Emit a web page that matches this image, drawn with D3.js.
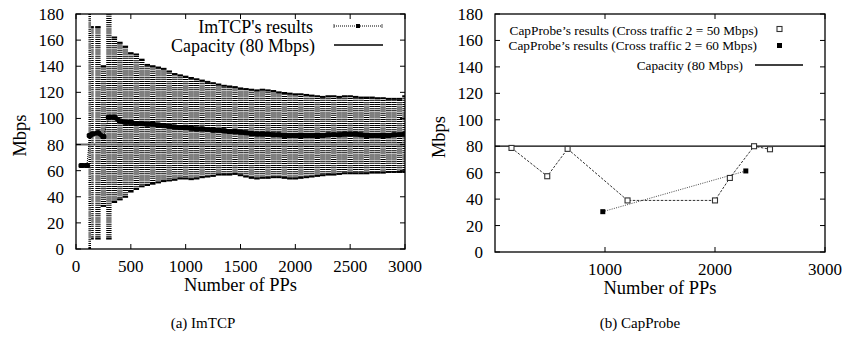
<!DOCTYPE html>
<html>
<head>
<meta charset="utf-8">
<script src="https://cdn.jsdelivr.net/npm/d3@7"></script>
<style>
  body { margin: 0; background: #fff; }
  svg { display: block; font-family: "Liberation Serif", "Times New Roman", serif; }
</style>
</head>
<body>
<svg id="chart" width="844" height="350"></svg>
<script>
// (a) ImTCP: estimate and spread per number of packet pairs
const imPPs = [50, 100, 125, 150, 200, 250, 300, 350, 400, 450, 500, 550, 600, 650, 700, 750, 800, 850, 900, 950,
  1000, 1050, 1100, 1150, 1200, 1250, 1300, 1350, 1400, 1450, 1500, 1550, 1600, 1650, 1700, 1750, 1800, 1850, 1900, 1950,
  2000, 2050, 2100, 2150, 2200, 2250, 2300, 2350, 2400, 2450, 2500, 2550, 2600, 2650, 2700, 2750, 2800, 2850, 2900, 2950, 3000];
const imMean = [64, 64, 87, 88, 89, 86, 101, 101, 98, 97, 97, 96, 96, 95.5, 95.5, 95, 94.5, 94, 93.5, 93,
  93, 92.5, 92, 92, 91.5, 91, 91, 90.5, 90, 90, 89.5, 89, 88.5, 88, 88, 88, 87.5, 87.5, 87, 87,
  87, 87, 87, 87, 87, 87, 87.5, 87.5, 87.5, 88, 88, 88, 87.5, 87, 87, 87, 87, 87, 87.5, 87.5, 88];
const imLow = [64, 64, 0, 8, 8, 33, 8, 36, 38, 40, 44, 46, 48, 49, 50, 51, 52, 52.5, 53, 54,
  54, 53.5, 54, 55, 55.5, 56, 57, 57, 57, 57.5, 56.5, 55.5, 54.5, 54, 54.5, 54.5, 55, 55, 54.5, 54,
  54, 54.5, 55, 55.5, 56, 56.5, 57, 57, 57.5, 58, 58, 58, 58, 58, 58.5, 58.5, 58.5, 59, 59, 59, 59];
const imHigh = [64, 64, 190, 170, 170, 140, 190, 162, 158, 155, 150, 149, 145, 141, 140, 139, 138, 136, 134, 133,
  132, 131, 130, 129, 128, 127, 126, 125, 124.5, 124, 123, 122.5, 122, 121.5, 122, 121.5, 121, 120, 119.5, 119,
  118.5, 118.5, 118, 117.5, 117, 116.5, 117, 117, 116.5, 117, 117, 116.5, 116, 116, 116, 115.5, 115.5, 115, 115, 115, 117];

// (b) CapProbe
const cp50PPs = [150, 475, 660, 1205, 2000, 2135, 2355, 2500];
const cp50Vals = [78.7, 57.3, 78, 39, 39, 56, 80, 77.7];
const cp60PPs = [980, 2280];
const cp60Vals = [30.5, 61.3];

const capacity = 80;
const yTicks = [0, 20, 40, 60, 80, 100, 120, 140, 160, 180];
const xTicksA = [0, 500, 1000, 1500, 2000, 2500, 3000];
const xTicksB = [1000, 2000, 3000];

const svg = d3.select('#chart');
const tickLen = 5;
const stripe = 2.1; // vertical period of the dotted error bars

function frame(g, x, y, xTicks) {
  const [x0, x1] = x.range();
  const [y0, y1] = y.range();
  g.append('rect')
    .attr('x', x0).attr('y', y1)
    .attr('width', x1 - x0).attr('height', y0 - y1)
    .attr('fill', 'none').attr('stroke', '#000').attr('stroke-width', 1.3);

  // inward ticks on all four sides
  g.selectAll('.ytl').data(yTicks).enter().append('line')
    .attr('x1', x0).attr('x2', x0 + tickLen)
    .attr('y1', d => y(d)).attr('y2', d => y(d))
    .attr('stroke', '#000');
  g.selectAll('.ytr').data(yTicks).enter().append('line')
    .attr('x1', x1).attr('x2', x1 - tickLen)
    .attr('y1', d => y(d)).attr('y2', d => y(d))
    .attr('stroke', '#000');
  g.selectAll('.xtb').data(xTicks).enter().append('line')
    .attr('x1', d => x(d)).attr('x2', d => x(d))
    .attr('y1', y0).attr('y2', y0 - tickLen)
    .attr('stroke', '#000');
  g.selectAll('.xtt').data(xTicks).enter().append('line')
    .attr('x1', d => x(d)).attr('x2', d => x(d))
    .attr('y1', y1).attr('y2', y1 + tickLen)
    .attr('stroke', '#000');

  g.selectAll('.ylab').data(yTicks).enter().append('text')
    .attr('x', x0 - 12).attr('y', d => y(d) + 6)
    .attr('text-anchor', 'end').attr('font-size', 17)
    .text(d => d);
  g.selectAll('.xlab').data(xTicks).enter().append('text')
    .attr('x', d => x(d)).attr('y', y0 + 23)
    .attr('text-anchor', 'middle').attr('font-size', 17)
    .text(d => d);

  g.append('text')
    .attr('x', (x0 + x1) / 2).attr('y', y0 + 42)
    .attr('text-anchor', 'middle').attr('font-size', 18.5)
    .text('Number of PPs');
  g.append('text')
    .attr('transform', `translate(${x0 - 50},${(y0 + y1) / 2 + 4}) rotate(-90)`)
    .attr('text-anchor', 'middle').attr('font-size', 18.5)
    .text('Mbps');
}

// ---------- (a) ImTCP ----------
const xA = d3.scaleLinear().domain([0, 3000]).range([76, 405]);
const yA = d3.scaleLinear().domain([0, 180]).range([249, 14]);
const gA = svg.append('g');

svg.append('clipPath').attr('id', 'clipA').append('rect')
  .attr('x', 76).attr('y', 14).attr('width', 329).attr('height', 235);

const band = gA.append('g').attr('clip-path', 'url(#clipA)');
const bars = imPPs.map((p, i) => ({
  p, mean: imMean[i], low: imLow[i], high: imHigh[i],
  w: i === 0 ? xA(imPPs[1]) - xA(imPPs[0]) : xA(p) - xA(imPPs[i - 1])
}));
const spread = bars.filter(d => d.high > d.low);

// dotted vertical error bars; phase kept on a common grid so the dots line up as stripes
band.selectAll('.eb').data(spread).enter().append('line')
  .attr('x1', d => xA(d.p)).attr('x2', d => xA(d.p))
  .attr('y1', d => yA(d.low)).attr('y2', d => yA(d.high))
  .attr('stroke', '#000')
  .attr('stroke-width', d => d.w - 0.15)
  .attr('stroke-dasharray', `1,${stripe - 1}`)
  .attr('stroke-dashoffset', (d, i) => stripe - (yA(d.low) % stripe) + (i % 3 === 0 ? 0.3 : 0));
band.selectAll('.capHi').data(spread).enter().append('line')
  .attr('x1', d => xA(d.p) - d.w / 2).attr('x2', d => xA(d.p) + d.w / 2)
  .attr('y1', d => yA(d.high)).attr('y2', d => yA(d.high))
  .attr('stroke', '#000').attr('stroke-width', 2);
band.selectAll('.capLo').data(spread).enter().append('line')
  .attr('x1', d => xA(d.p) - d.w / 2).attr('x2', d => xA(d.p) + d.w / 2)
  .attr('y1', d => yA(d.low)).attr('y2', d => yA(d.low))
  .attr('stroke', '#000').attr('stroke-width', 2);

band.append('line')
  .attr('x1', xA(0)).attr('x2', xA(3000))
  .attr('y1', yA(capacity)).attr('y2', yA(capacity))
  .attr('stroke', '#666').attr('stroke-width', 2);

// thin connection through all estimates
band.append('path')
  .datum(bars)
  .attr('fill', 'none').attr('stroke', '#000').attr('stroke-width', 1)
  .attr('stroke-dasharray', '1,1')
  .attr('d', d3.line().x(d => xA(d.p)).y(d => yA(d.mean)));

// dense markers read as a thick line: split into runs without large jumps
const runs = [];
bars.forEach((d, i) => {
  if (i === 0 || Math.abs(d.mean - bars[i - 1].mean) > 4) runs.push([]);
  runs[runs.length - 1].push(d);
});
band.selectAll('.run').data(runs.filter(r => r.length > 1)).enter().append('path')
  .attr('fill', 'none').attr('stroke', '#000').attr('stroke-width', 4.6)
  .attr('d', d3.line().x(d => xA(d.p)).y(d => yA(d.mean)));
band.selectAll('.mk').data(bars).enter().append('rect')
  .attr('x', d => xA(d.p) - 3)
  .attr('y', d => yA(d.mean) - 2.5)
  .attr('width', 6)
  .attr('height', 5)
  .attr('rx', 1.5)
  .attr('fill', '#000');

frame(gA, xA, yA, xTicksA);

// legend (a)
const legA = gA.append('g');
legA.append('text').attr('x', 313).attr('y', 33).attr('text-anchor', 'end')
  .attr('font-size', 18).text("ImTCP's results");
legA.append('text').attr('x', 315).attr('y', 52).attr('text-anchor', 'end')
  .attr('font-size', 18).text('Capacity (80 Mbps)');
legA.append('line').attr('x1', 334).attr('x2', 382).attr('y1', 26).attr('y2', 26)
  .attr('stroke', '#000').attr('stroke-dasharray', '1,1');
[334, 382].forEach(xx => legA.append('line')
  .attr('x1', xx).attr('x2', xx).attr('y1', 24).attr('y2', 28).attr('stroke', '#555'));
legA.append('rect').attr('x', 356).attr('y', 24).attr('width', 4).attr('height', 4).attr('fill', '#000');
legA.append('line').attr('x1', 334).attr('x2', 383).attr('y1', 45).attr('y2', 45)
  .attr('stroke', '#000').attr('stroke-width', 1.3);

gA.append('text').attr('x', 203).attr('y', 328).attr('text-anchor', 'middle')
  .attr('font-size', 15).text('(a) ImTCP');

// ---------- (b) CapProbe ----------
const xB = d3.scaleLinear().domain([0, 3000]).range([495, 825]);
const yB = d3.scaleLinear().domain([0, 180]).range([252, 14]);
const gB = svg.append('g');

gB.append('line')
  .attr('x1', xB(0)).attr('x2', xB(3000))
  .attr('y1', yB(capacity)).attr('y2', yB(capacity))
  .attr('stroke', '#000').attr('stroke-width', 1.3);

const cp50 = cp50PPs.map((p, i) => ({ p, v: cp50Vals[i] }));
const cp60 = cp60PPs.map((p, i) => ({ p, v: cp60Vals[i] }));
const lineB = d3.line().x(d => xB(d.p)).y(d => yB(d.v));

gB.append('path').datum(cp50)
  .attr('fill', 'none').attr('stroke', '#333').attr('stroke-width', 1)
  .attr('stroke-dasharray', '2.5,1.5').attr('d', lineB);
gB.append('path').datum(cp60)
  .attr('fill', 'none').attr('stroke', '#444').attr('stroke-width', 1)
  .attr('stroke-dasharray', '1,1.3').attr('d', lineB);

gB.selectAll('.m50').data(cp50).enter().append('rect')
  .attr('x', d => xB(d.p) - 2.5).attr('y', d => yB(d.v) - 2.5)
  .attr('width', 5).attr('height', 5)
  .attr('fill', '#fff').attr('stroke', '#333').attr('stroke-width', 1.1);
gB.selectAll('.m60').data(cp60).enter().append('rect')
  .attr('x', d => xB(d.p) - 2.5).attr('y', d => yB(d.v) - 2.5)
  .attr('width', 5).attr('height', 5)
  .attr('fill', '#000');

frame(gB, xB, yB, xTicksB);

// legend (b)
const legB = gB.append('g').attr('font-size', 13.3);
legB.append('text').attr('x', 758).attr('y', 35).attr('text-anchor', 'end')
  .text('CapProbe\u2019s results (Cross traffic 2 = 50 Mbps)');
legB.append('text').attr('x', 757).attr('y', 50).attr('text-anchor', 'end')
  .text('CapProbe\u2019s results (Cross traffic 2 = 60 Mbps)');
legB.append('text').attr('x', 743).attr('y', 69.5).attr('text-anchor', 'end')
  .text('Capacity (80 Mbps)');
legB.append('rect').attr('x', 777).attr('y', 26.5).attr('width', 5).attr('height', 5)
  .attr('fill', '#fff').attr('stroke', '#333').attr('stroke-width', 1.1);
legB.append('rect').attr('x', 777).attr('y', 43).attr('width', 5).attr('height', 5)
  .attr('fill', '#000');
legB.append('line').attr('x1', 755).attr('x2', 803).attr('y1', 65).attr('y2', 65)
  .attr('stroke', '#000').attr('stroke-width', 1.3);

gB.append('text').attr('x', 640).attr('y', 328).attr('text-anchor', 'middle')
  .attr('font-size', 15).text('(b) CapProbe');
</script>
</body>
</html>
